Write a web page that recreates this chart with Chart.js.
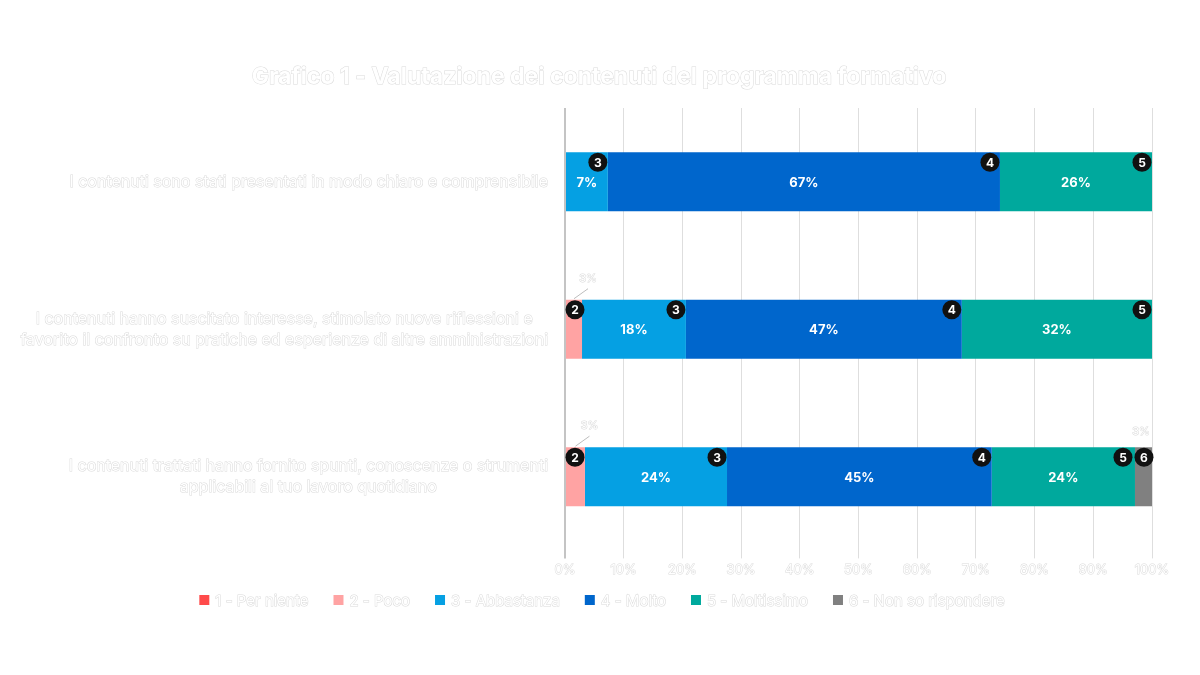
<!DOCTYPE html>
<html>
<head>
<meta charset="utf-8">
<script src="https://cdn.jsdelivr.net/npm/chart.js@4.4.1/dist/chart.umd.min.js"></script>
<style>
  html, body { margin: 0; padding: 0; background: #ffffff; }
  #wrap { width: 1200px; height: 675px; position: relative; }
</style>
</head>
<body>
<div id="wrap"><canvas id="valutazione"></canvas></div>
<script>
const categories = [
    ['I contenuti sono stati presentati in modo chiaro e comprensibile'],
    ['I contenuti hanno suscitato interesse, stimolato nuove riflessioni e',
     'favorito il confronto su pratiche ed esperienze di altre amministrazioni'],
    ['I contenuti trattati hanno fornito spunti, conoscenze o strumenti',
     'applicabili al tuo lavoro quotidiano']
];

const chartTitle = 'Grafico 1 - Valutazione dei contenuti del programma formativo';
const seriesLabels = ['1 - Per niente', '2 - Poco', '3 - Abbastanza', '4 - Molto', '5 - Moltissimo', '6 - Non so rispondere'];
const seriesColors = ['#ff4b4b', '#ffa3a3', '#05a0e3', '#0066cc', '#00a99d', '#808080'];

const perNiente = [0, 0, 0];
const poco = [0, 2.9, 3.4];
const abbastanza = [7.3, 17.7, 24.2];
const molto = [66.8, 47.0, 45.1];
const moltissimo = [25.9, 32.4, 24.4];
const nonSo = [0, 0, 2.9];

const xTicks = [0, 10, 20, 30, 40, 50, 60, 70, 80, 90, 100];

const seriesValues = [perNiente, poco, abbastanza, molto, moltissimo, nonSo];
const FONT = 'Inter, "Liberation Sans", Arial, sans-serif';
const EDGE = '#dadada';

// white text with the faint grey rim it has in the original
function paleText(ctx, txt, x, y) {
    ctx.lineWidth = 1;
    ctx.strokeStyle = EDGE;
    ctx.strokeText(txt, x, y);
    ctx.fillStyle = '#ffffff';
    ctx.fillText(txt, x, y);
}

// labels, badges, y-axis text, title and legend are drawn by hand
const decorPlugin = {
    id: 'decor',
    afterDatasetsDraw(chart) {
        const {ctx, chartArea} = chart;
        categories.forEach((cat, i) => {
            const segs = [];
            chart.data.datasets.forEach((ds, d) => {
                const v = ds.data[i];
                if (!v) return;
                const el = chart.getDatasetMeta(d).data[i];
                const p = el.getProps(['x', 'y', 'base', 'height'], true);
                segs.push({d, v, start: Math.min(p.x, p.base), end: Math.max(p.x, p.base), y: p.y, h: p.height});
            });

            // value labels
            segs.forEach(s => {
                const mid = (s.start + s.end) / 2;
                const top = s.y - s.h / 2;
                const txt = Math.round(s.v) + '%';
                ctx.save();
                ctx.textAlign = 'center';
                ctx.textBaseline = 'middle';
                if (s.v >= 5) {
                    ctx.font = 'bold 13px ' + FONT;
                    ctx.fillStyle = '#ffffff';
                    ctx.fillText(txt, mid, s.y + 1);
                } else {
                    const lx = Math.min(mid + 14, chartArea.right - 11);
                    let ly = top - 15;
                    if (lx - mid > 4) {
                        ly = top - 21;
                        ctx.strokeStyle = '#bdbdbd';
                        ctx.lineWidth = 1;
                        ctx.beginPath();
                        ctx.moveTo(mid, top - 1);
                        ctx.lineTo(lx, top - 11);
                        ctx.stroke();
                    }
                    ctx.font = '11px ' + FONT;
                    paleText(ctx, txt, lx, ly);
                }
                ctx.restore();
            });

            // numbered badges, placed right to left so they don't overlap
            let prevX = Infinity;
            for (let k = segs.length - 1; k >= 0; k--) {
                const s = segs[k];
                let bx = Math.min(s.end - 10, prevX - 21);
                bx = Math.max(bx, s.start + 9);
                prevX = bx;
                const by = s.y - s.h / 2 + 10;
                ctx.save();
                ctx.fillStyle = '#111111';
                ctx.beginPath();
                ctx.arc(bx, by, 9.5, 0, Math.PI * 2);
                ctx.fill();
                ctx.font = 'bold 12px ' + FONT;
                ctx.fillStyle = '#ffffff';
                ctx.textAlign = 'center';
                ctx.textBaseline = 'middle';
                ctx.fillText(String(s.d + 1), bx, by + 1);
                ctx.restore();
            }
        });
    },
    afterDraw(chart) {
        const {ctx} = chart;
        const yScale = chart.scales.y;

        // title
        ctx.save();
        ctx.font = 'bold 23px ' + FONT;
        ctx.textAlign = 'center';
        ctx.textBaseline = 'middle';
        paleText(ctx, chartTitle, 599, 77);
        ctx.restore();

        // category labels, lines centred on each other, block right-aligned
        ctx.save();
        ctx.font = '16px ' + FONT;
        ctx.textAlign = 'center';
        ctx.textBaseline = 'middle';
        categories.forEach((lines, i) => {
            const yc = yScale.getPixelForValue(i);
            const w = Math.max(...lines.map(l => ctx.measureText(l).width));
            const cx = 548 - w / 2;
            const lh = 21;
            lines.forEach((l, j) => {
                paleText(ctx, l, cx, yc + (j - (lines.length - 1) / 2) * lh);
            });
        });
        ctx.restore();

        // legend
        ctx.save();
        ctx.font = '15px ' + FONT;
        ctx.textBaseline = 'middle';
        ctx.textAlign = 'left';
        const box = 10, gapText = 6, gapItem = 25;
        const widths = seriesLabels.map(t => box + gapText + ctx.measureText(t).width);
        const total = widths.reduce((a, b) => a + b, 0) + gapItem * (widths.length - 1);
        let x = 602 - total / 2;
        const y = 600;
        seriesLabels.forEach((t, k) => {
            ctx.fillStyle = seriesColors[k];
            ctx.fillRect(x, y - box / 2, box, box);
            paleText(ctx, t, x + box + gapText, y + 1);
            x += widths[k] + gapItem;
        });
        ctx.restore();
    }
};

new Chart(document.getElementById('valutazione').getContext('2d'), {
    type: 'bar',
    data: {
        labels: categories,
        datasets: seriesLabels.map((label, k) => ({
            label: label,
            data: seriesValues[k],
            backgroundColor: seriesColors[k],
            borderWidth: 0,
            categoryPercentage: 0.4,
            barPercentage: 1.0
        }))
    },
    options: {
        indexAxis: 'y',
        responsive: true,
        maintainAspectRatio: false,
        animation: false,
        layout: {
            padding: { top: 108, right: 48, bottom: 93, left: 0 }
        },
        plugins: {
            title: { display: false },
            legend: { display: false },
            tooltip: { enabled: false }
        },
        scales: {
            x: {
                stacked: true,
                min: 0,
                max: 100,
                afterBuildTicks: (scale) => {
                    scale.ticks = xTicks.map(v => ({ value: v }));
                },
                grid: {
                    color: (c) => c.index === 0 ? '#c4c4c4' : '#dedede',
                    lineWidth: (c) => c.index === 0 ? 2 : 1,
                    tickLength: 8
                },
                border: { display: false },
                ticks: {
                    color: '#ffffff',
                    textStrokeColor: EDGE,
                    textStrokeWidth: 1,
                    padding: 4,
                    maxRotation: 0,
                    font: { family: FONT, size: 13 },
                    callback: (v) => v + '%'
                }
            },
            y: {
                stacked: true,
                grid: { display: false },
                border: { display: false },
                ticks: { display: false },
                afterFit: (scale) => { scale.width = 565; }
            }
        }
    },
    plugins: [decorPlugin]
});
</script>
</body>
</html>
